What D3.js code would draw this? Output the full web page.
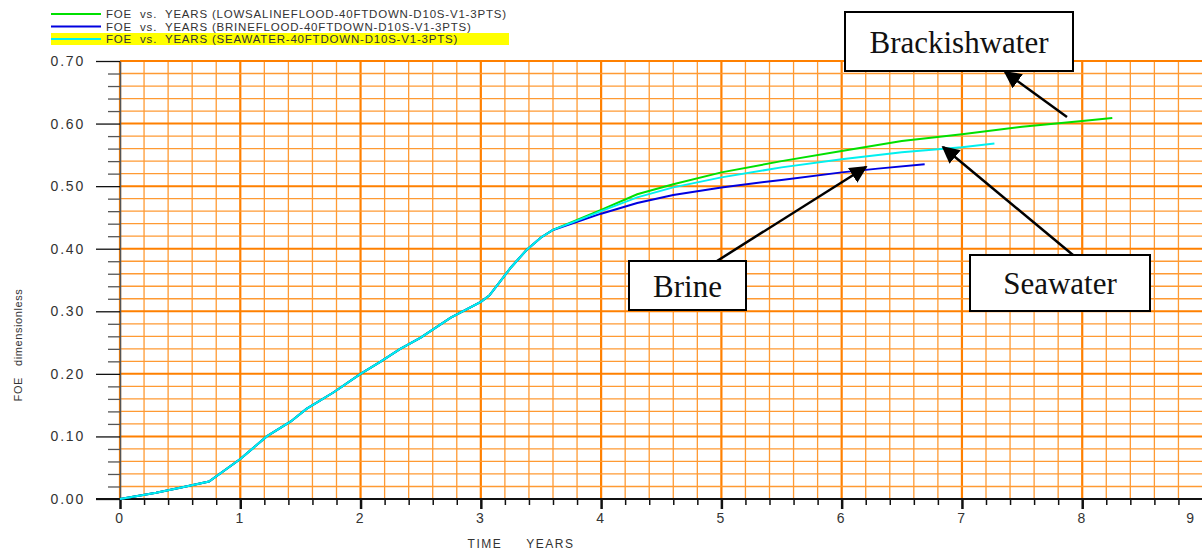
<!DOCTYPE html>
<html>
<head>
<meta charset="utf-8">
<script src="https://cdn.jsdelivr.net/npm/d3@7"></script>
<style>
	body { margin: 0; background: #fff; }
	svg { display: block; font-family: "Liberation Sans", Arial, sans-serif; }
	.tick-label { font-size: 14px; fill: #333; letter-spacing: 1.8px; }
	.axis-label { font-size: 12px; fill: #333; letter-spacing: 1.5px; }
	.legend-text { font-size: 11.5px; fill: #333; letter-spacing: 0.8px; }
	.note { font-family: "Liberation Serif", "Times New Roman", serif; font-size: 31px; fill: #111; }
</style>
</head>
<body>
<div id="chart"></div>
<script>
// Shared part of the curves (all three runs coincide up to ~3.6 years)
var commonYears = [0, 0.3, 0.5, 0.74, 1.0, 1.22, 1.42, 1.55, 1.78, 2.0, 2.17, 2.33, 2.5, 2.75, 3.0, 3.07, 3.15, 3.25, 3.38, 3.5, 3.6];
var commonFoe   = [0, 0.01, 0.018, 0.028, 0.064, 0.10, 0.124, 0.144, 0.171, 0.20, 0.22, 0.24, 0.258, 0.29, 0.315, 0.325, 0.345, 0.37, 0.398, 0.418, 0.43];

// Low saline (brackish) flood
var lowSalineYears = [3.8, 4.0, 4.3, 4.6, 5.0, 5.5, 6.0, 6.5, 7.0, 7.5, 8.0, 8.25];
var lowSalineFoe   = [0.446, 0.462, 0.487, 0.503, 0.522, 0.54, 0.556, 0.572, 0.583, 0.595, 0.604, 0.609];

// Brine flood
var brineYears = [3.8, 4.0, 4.3, 4.6, 5.0, 5.5, 6.0, 6.3, 6.69];
var brineFoe   = [0.443, 0.456, 0.473, 0.486, 0.498, 0.51, 0.522, 0.528, 0.535];

// Seawater flood
var seawaterYears = [3.8, 4.0, 4.3, 4.6, 5.0, 5.5, 6.0, 6.5, 7.0, 7.27];
var seawaterFoe   = [0.445, 0.46, 0.482, 0.498, 0.514, 0.53, 0.543, 0.554, 0.562, 0.568];

var seriesNames = [
	"FOE  vs.  YEARS (LOWSALINEFLOOD-40FTDOWN-D10S-V1-3PTS)",
	"FOE  vs.  YEARS (BRINEFLOOD-40FTDOWN-D10S-V1-3PTS)",
	"FOE  vs.  YEARS (SEAWATER-40FTDOWN-D10S-V1-3PTS)"
];
var seriesColors = ["#00e000", "#0000e0", "#00f0f0"];

var xTicks = [0, 1, 2, 3, 4, 5, 6, 7, 8, 9];
var yTicks = [0, 0.1, 0.2, 0.3, 0.4, 0.5, 0.6, 0.7];

var notes = [
	{ text: "Brackishwater", box: [845, 12, 228, 59], from: [1067, 117], to: [1005, 72] },
	{ text: "Brine",         box: [629, 261, 117, 49], from: [717, 261], to: [866, 167] },
	{ text: "Seawater",      box: [970, 255, 180, 56], from: [1073, 255], to: [943, 147] }
];

var width = 1202, height = 553;

function zip(xs, ys) {
	var out = [];
	for (var i = 0; i < xs.length; i++) out.push({ year: xs[i], foe: ys[i] });
	return out;
}

var plot_data = [
	zip(commonYears.concat(lowSalineYears), commonFoe.concat(lowSalineFoe)),
	zip(commonYears.concat(brineYears), commonFoe.concat(brineFoe)),
	zip(commonYears.concat(seawaterYears), commonFoe.concat(seawaterFoe))
];

var xScale = d3.scaleLinear().domain([0, 9]).range([120, 1202.5]);
var yScale = d3.scaleLinear().domain([0, 0.7]).range([499, 61]);

var svg = d3.select("#chart").append("svg")
	.attr("width", width)
	.attr("height", height);

// Grid: minor every 0.2 years / 0.02 FOE, major at whole years / 0.1
var grid = svg.append("g").attr("class", "grid");
d3.range(0, 45).forEach(function(i) {
	var x = xScale(i * 0.2);
	var major = i % 5 == 0;
	grid.append("line")
		.attr("x1", x).attr("x2", x)
		.attr("y1", yScale(0.7)).attr("y2", yScale(0))
		.style("stroke", major ? "#ff8000" : "#ff9a33")
		.style("stroke-width", major ? 2.2 : 1.3);
});
d3.range(1, 36).forEach(function(i) {
	var y = yScale(i * 0.02);
	var major = i % 5 == 0;
	grid.append("line")
		.attr("x1", xScale(0)).attr("x2", width)
		.attr("y1", y).attr("y2", y)
		.style("stroke", major ? "#ff8000" : "#ff9a33")
		.style("stroke-width", major ? 2 : 1.3);
});

// Y axis
var yAxis = d3.axisLeft(yScale)
	.tickValues(d3.range(0, 36).map(function(i) { return i * 0.02; }))
	.tickSize(0)
	.tickFormat("");
var yg = svg.append("g")
	.attr("transform", "translate(" + xScale(0) + ",0)")
	.call(yAxis);
yg.select(".domain").style("stroke", "#555").style("stroke-width", 1.5);
yg.selectAll(".tick line")
	.attr("x2", function(d, i) { return i % 5 == 0 ? -24 : -12; })
	.style("stroke", function(d, i) { return i % 5 == 0 ? "#111" : "#555"; })
	.style("stroke-width", 1.3);
svg.selectAll(".ytext")
	.data(yTicks)
	.enter()
	.append("text")
	.attr("class", "tick-label")
	.attr("x", 85)
	.attr("y", function(d) { return yScale(d) + 5; })
	.attr("text-anchor", "end")
	.text(function(d) { return d3.format(".2f")(d); });

// X axis
var xAxis = d3.axisBottom(xScale)
	.tickValues(d3.range(0, 45).map(function(i) { return i * 0.2; }))
	.tickSize(0)
	.tickFormat("");
var xg = svg.append("g")
	.attr("transform", "translate(0," + yScale(0) + ")")
	.call(xAxis);
xg.select(".domain").remove();
xg.append("line")
	.attr("x1", 96).attr("x2", width)
	.style("stroke", "#111").style("stroke-width", 2);
xg.selectAll(".tick line")
	.attr("y2", function(d, i) { return i % 5 == 0 ? 10 : 6; })
	.style("stroke", "#111")
	.style("stroke-width", function(d, i) { return i % 5 == 0 ? 2.5 : 1.5; });
svg.selectAll(".xtext")
	.data(xTicks)
	.enter()
	.append("text")
	.attr("class", "tick-label")
	.attr("x", function(d) { return Math.min(xScale(d), 1191); })
	.attr("y", 523)
	.attr("text-anchor", "middle")
	.text(function(d) { return d; });

svg.append("text")
	.attr("class", "axis-label")
	.attr("x", 521)
	.attr("y", 548)
	.attr("text-anchor", "middle")
	.attr("xml:space", "preserve")
	.text("TIME     YEARS");

svg.append("text")
	.attr("class", "axis-label")
	.attr("transform", "translate(22,345) rotate(-90)")
	.attr("text-anchor", "middle")
	.style("font-size", "11px")
	.style("letter-spacing", "0.6px")
	.attr("xml:space", "preserve")
	.text("FOE   dimensionless");

// Curves
var line = d3.line()
	.x(function(d) { return xScale(d.year); })
	.y(function(d) { return yScale(d.foe); });

svg.selectAll(".plot-line")
	.data(plot_data)
	.enter()
	.append("path")
	.attr("class", "plot-line")
	.attr("d", line)
	.style("fill", "none")
	.style("stroke", function(d, i) { return seriesColors[i]; })
	.style("stroke-width", 2);

// Legend
svg.append("rect")
	.attr("x", 51).attr("y", 33)
	.attr("width", 458).attr("height", 12)
	.style("fill", "#ffff00");
var legend = svg.selectAll(".legend-item")
	.data(seriesNames)
	.enter()
	.append("g")
	.attr("class", "legend-item")
	.attr("transform", function(d, i) { return "translate(0," + (14 + i * 12.5) + ")"; });
legend.append("line")
	.attr("x1", 51).attr("x2", 101)
	.style("stroke", function(d, i) { return seriesColors[i]; })
	.style("stroke-width", 2);
legend.append("text")
	.attr("class", "legend-text")
	.attr("x", 106)
	.attr("y", 4)
	.attr("xml:space", "preserve")
	.text(function(d) { return d; });

// Annotation boxes with arrows
var defs = svg.append("defs");
defs.append("marker")
	.attr("id", "arrow")
	.attr("viewBox", "0 0 10 10")
	.attr("refX", 9).attr("refY", 5)
	.attr("markerWidth", 7).attr("markerHeight", 7)
	.attr("markerUnits", "strokeWidth")
	.attr("orient", "auto")
	.append("path")
	.attr("d", "M0,0 L10,5 L0,10 z")
	.style("fill", "#000");

var noteG = svg.selectAll(".note-item")
	.data(notes)
	.enter()
	.append("g")
	.attr("class", "note-item");
noteG.append("line")
	.attr("x1", function(d) { return d.from[0]; })
	.attr("y1", function(d) { return d.from[1]; })
	.attr("x2", function(d) { return d.to[0]; })
	.attr("y2", function(d) { return d.to[1]; })
	.style("stroke", "#000")
	.style("stroke-width", 2.5)
	.attr("marker-end", "url(#arrow)");
noteG.append("rect")
	.attr("x", function(d) { return d.box[0]; })
	.attr("y", function(d) { return d.box[1]; })
	.attr("width", function(d) { return d.box[2]; })
	.attr("height", function(d) { return d.box[3]; })
	.style("fill", "#fff")
	.style("stroke", "#000")
	.style("stroke-width", 2);
noteG.append("text")
	.attr("class", "note")
	.attr("x", function(d) { return d.box[0] + d.box[2] / 2; })
	.attr("y", function(d) { return d.box[1] + d.box[3] / 2 + 11; })
	.attr("text-anchor", "middle")
	.text(function(d) { return d.text; });
</script>
</body>
</html>
